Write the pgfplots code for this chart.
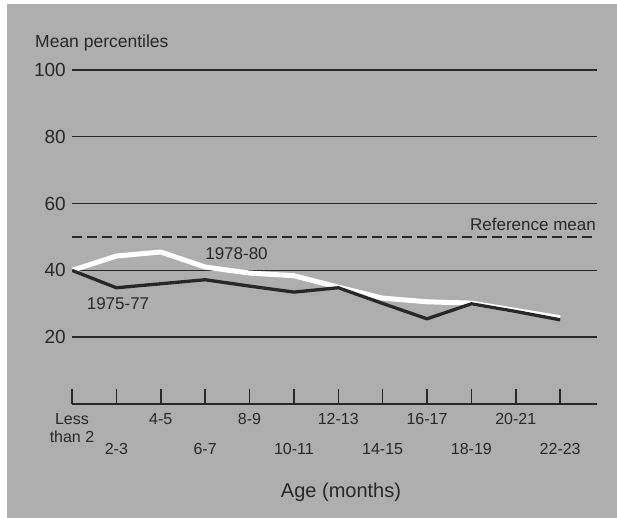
\documentclass[border=0pt]{standalone}
\usepackage{fontspec}
\setmainfont{Liberation Sans}
\usepackage{pgfplots}
\pgfplotsset{compat=1.18}
\definecolor{bg}{RGB}{174,174,174}
\definecolor{ink}{RGB}{40,40,40}
\newcommand{\low}[1]{\raisebox{-30pt}{#1}}
\begin{document}
\begin{tikzpicture}[x=1pt,y=1pt]
\useasboundingbox (0,0) rectangle (617,518);
\fill[white] (0,0) rectangle (617,518);
\fill[bg] (7,0) rectangle (617,514);
\begin{axis}[
    at={(72pt,114pt)}, anchor=south west,
    width=525pt, height=334pt, scale only axis,
    xmin=0, xmax=11.83, ymin=0, ymax=100,
    axis lines*=left,
    y axis line style={draw=none},
    x axis line style={ink, line width=1.5pt},
    xtick align=inside,
    xtick={0,...,11},
    xticklabels={{\begin{tabular}[t]{@{}c@{}}Less\\than 2\end{tabular}},\low{2-3},4-5,\low{6-7},8-9,\low{10-11},
                 12-13,\low{14-15},16-17,\low{18-19},20-21,\low{22-23}},
    xtick style={ink, line width=1.5pt},
    major tick length=15pt,
    xticklabel style={font=\fontsize{16}{18}\selectfont, ink, anchor=north, inner sep=0pt,
                      text height=11pt, text depth=0pt},
    xticklabel shift=9pt,
    ytick={20,40,60,80,100},
    ytick style={draw=none},
    ymajorgrids=true,
    major grid style={ink, line width=1.4pt},
    yticklabel style={font=\fontsize{19}{22}\selectfont, ink, anchor=east, inner sep=0pt, xshift=-6pt},
    /pgf/number format/assume math mode=true,
]
% reference mean
\addplot[ink, line width=1.5pt, dash pattern=on 10pt off 5pt] coordinates {(0,50)(11.83,50)};
% 1978-80
\addplot[white, line width=5pt, line join=round] coordinates {
    (0,40)(1,44.3)(2,45.5)(3,41)(4,39.2)(5,38.4)(6,35)(7,31.7)(8,30.6)(9,30.2)(10,28)(11,25.8)};
% 1975-77
\addplot[ink, line width=3.3pt, line join=round] coordinates {
    (0,40)(1,34.8)(2,36)(3,37.2)(4,35.3)(5,33.5)(6,34.8)(7,30.1)(8,25.5)(9,30)(10,27.7)(11,25.2)};
\end{axis}
\node[ink, anchor=base west, inner sep=0pt, font=\fontsize{17.5}{20}\selectfont] at (35,470) {Mean percentiles};
\node[ink, anchor=base, inner sep=0pt, font=\fontsize{20}{23}\selectfont] at (341,20) {Age (months)};
\node[ink, anchor=base east, inner sep=0pt, font=\fontsize{17}{20}\selectfont] at (596,287) {Reference mean};
\node[ink, anchor=base, inner sep=0pt, font=\fontsize{17}{20}\selectfont] at (236.5,258) {1978-80};
\node[ink, anchor=base, inner sep=0pt, font=\fontsize{17}{20}\selectfont] at (118,208) {1975-77};
\end{tikzpicture}
\end{document}
